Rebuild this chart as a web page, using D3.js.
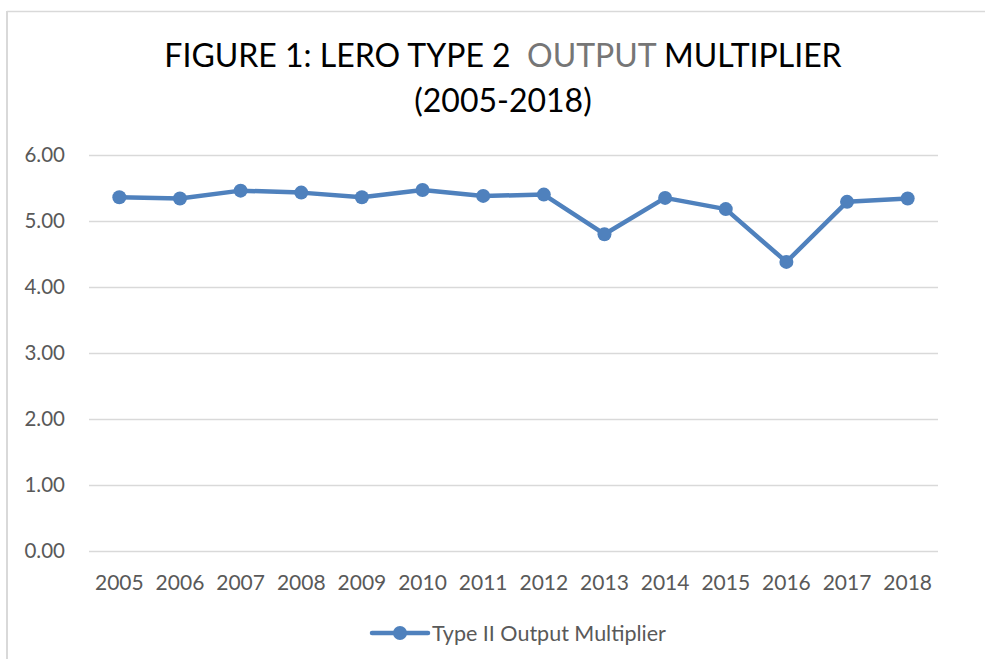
<!DOCTYPE html>
<html>
<head>
<meta charset="utf-8">
<script src="https://cdn.jsdelivr.net/npm/d3@7"></script>
<style>
  body { margin: 0; background: #fff; }
  text { font-family: Lato, "Open Sans", sans-serif; }
</style>
</head>
<body>
<div id="chart"></div>
<script>
// ===========Data
var years = ["2005", "2006", "2007", "2008", "2009", "2010", "2011",
             "2012", "2013", "2014", "2015", "2016", "2017", "2018"];
var multiplier = [5.36, 5.34, 5.46, 5.43, 5.36, 5.47, 5.38,
                  5.40, 4.80, 5.35, 5.18, 4.38, 5.29, 5.34];
var yTicks = [0, 1, 2, 3, 4, 5, 6];
var seriesName = "Type II Output Multiplier";

// ===========Set Height, Width and Margins
var svgWidth = 985;
var svgHeight = 659;
var margin = { top: 155, right: 47, bottom: 108, left: 89 };
var width = svgWidth - margin.left - margin.right;
var height = svgHeight - margin.top - margin.bottom;

var lineColor = "#4f81bd";
var gridColor = "#d9d9d9";
var labelColor = "#595959";

var svg = d3.select("#chart").append("svg")
    .attr("width", svgWidth)
    .attr("height", svgHeight);

// outer chart border (top and left edges visible)
svg.append("line")
    .attr("x1", 7).attr("x2", svgWidth)
    .attr("y1", 11.5).attr("y2", 11.5)
    .attr("stroke", gridColor).attr("stroke-width", 1.5);
svg.append("line")
    .attr("x1", 7).attr("x2", 7)
    .attr("y1", 11).attr("y2", svgHeight)
    .attr("stroke", gridColor).attr("stroke-width", 2);

// ===========Title
var title = svg.append("text")
    .attr("x", 503)
    .attr("y", 67)
    .attr("text-anchor", "middle")
    .attr("font-size", 32)
    .attr("fill", "#000");
title.append("tspan").text("FIGURE 1: LERO TYPE 2\u00a0\u00a0");
title.append("tspan").attr("fill", "#767676").text("OUTPUT");
title.append("tspan").text(" MULTIPLIER");

svg.append("text")
    .attr("x", 503)
    .attr("y", 112)
    .attr("text-anchor", "middle")
    .attr("font-size", 32)
    .attr("fill", "#000")
    .text("(2005-2018)");

var chartGroup = svg.append("g")
    .attr("transform", `translate(${margin.left}, ${margin.top})`);

// ==========Scales
var xScale = d3.scaleBand()
    .domain(years)
    .range([0, width]);

var yScale = d3.scaleLinear()
    .domain([0, 6])
    .range([height, 0]);

// ==========Gridlines + y axis labels
var leftAxis = d3.axisLeft(yScale)
    .tickValues(yTicks)
    .tickSize(-width)
    .tickPadding(24)
    .tickFormat(d3.format(".2f"));

var yAxis = chartGroup.append("g").call(leftAxis);
yAxis.select(".domain").remove();
yAxis.selectAll(".tick line")
    .attr("stroke", gridColor)
    .attr("stroke-width", 1.5);
yAxis.selectAll(".tick text")
    .attr("fill", labelColor)
    .attr("font-size", 20.5)
    .style("font-family", "Lato, 'Open Sans', sans-serif");

// ==========x axis labels
var bottomAxis = d3.axisBottom(xScale).tickSize(0).tickPadding(24);
var xAxis = chartGroup.append("g")
    .attr("transform", `translate(0, ${height})`)
    .call(bottomAxis);
xAxis.select(".domain").remove();
xAxis.selectAll(".tick text")
    .attr("fill", labelColor)
    .attr("font-size", 21)
    .style("font-family", "Lato, 'Open Sans', sans-serif");

// ==========Line and markers
var cx = d => xScale(d.year) + xScale.bandwidth() / 2;
var points = years.map((y, i) => ({ year: y, value: multiplier[i] }));

var line = d3.line()
    .x(cx)
    .y(d => yScale(d.value));

chartGroup.append("path")
    .datum(points)
    .attr("fill", "none")
    .attr("stroke", lineColor)
    .attr("stroke-width", 4.5)
    .attr("stroke-linejoin", "round")
    .attr("d", line);

chartGroup.selectAll("circle.pt")
    .data(points)
    .enter()
    .append("circle")
    .attr("class", "pt")
    .attr("cx", cx)
    .attr("cy", d => yScale(d.value))
    .attr("r", 7)
    .attr("fill", lineColor);

// ==========Legend
var legend = svg.append("g").attr("transform", "translate(372, 633)");
legend.append("line")
    .attr("x1", 0).attr("x2", 56)
    .attr("y1", 0).attr("y2", 0)
    .attr("stroke", lineColor)
    .attr("stroke-width", 4.5)
    .attr("stroke-linecap", "round");
legend.append("circle")
    .attr("cx", 28).attr("cy", 0).attr("r", 7)
    .attr("fill", lineColor);
legend.append("text")
    .attr("x", 60)
    .attr("y", 7.5)
    .attr("font-size", 21.5)
    .attr("fill", labelColor)
    .text(seriesName);
</script>
</body>
</html>
